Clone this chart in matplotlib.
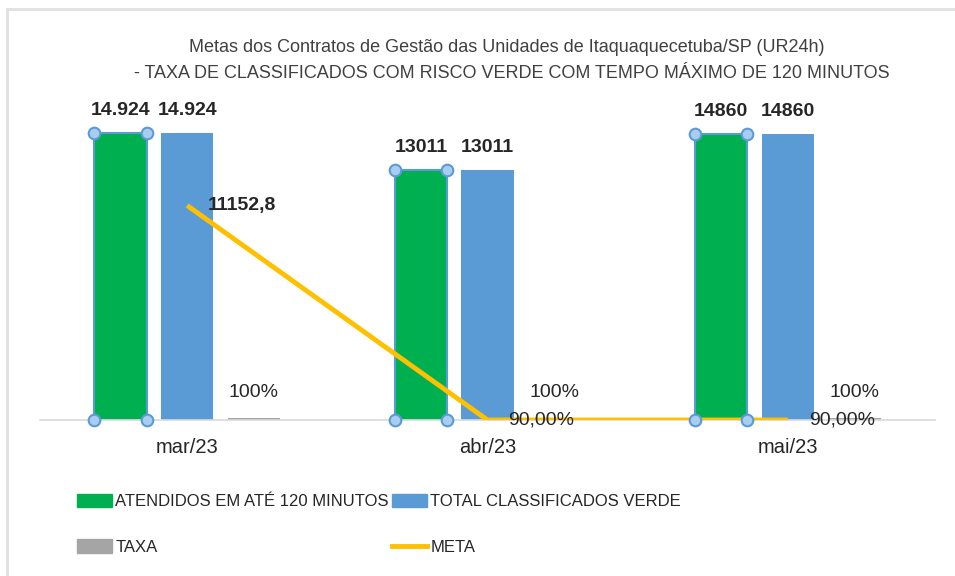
import matplotlib.pyplot as plt
from matplotlib.lines import Line2D
from matplotlib.patches import Patch
import numpy as np

# dados
meses = ['mar/23', 'abr/23', 'mai/23']
atendidos = [14924, 13011, 14860]
total_verde = [14924, 13011, 14860]
taxa = [100, 100, 100]
meta = [11152.8, 0.9, 0.9]

rot_atendidos = ['14.924', '13011', '14860']
rot_total = ['14.924', '13011', '14860']
rot_taxa = ['100%', '100%', '100%']
rot_meta = ['11152,8', '90,00%', '90,00%']

verde = '#00B050'
azul = '#5B9BD5'
cinza = '#A5A5A5'
amarelo = '#FFC000'
texto = '#262626'

plt.rcParams['font.family'] = ['Liberation Sans', 'DejaVu Sans']

fig = plt.figure(figsize=(9.55, 5.76), dpi=100)
ax = fig.add_axes([40 / 955, 156 / 576, 895 / 955, 320 / 576])

x = np.arange(len(meses))
w = 0.175
off = 0.222

ax.bar(x - off, atendidos, w, color=verde, edgecolor=azul, linewidth=1.5, zorder=2)
ax.bar(x, total_verde, w, color=azul, zorder=2)
ax.bar(x + off, taxa, w, color=cinza, zorder=2)
ax.plot(x, meta, color=amarelo, linewidth=3.5, solid_capstyle='butt', zorder=3)

# alças de seleção nas barras verdes
for xi, h in zip(x, atendidos):
    cx = [xi - off - w / 2, xi - off + w / 2] * 2
    cy = [0, 0, h, h]
    ax.scatter(cx, cy, s=70, facecolor='#A9CDF0', edgecolor=azul,
               linewidth=1.5, zorder=4, clip_on=False)

for xi, h, t in zip(x, atendidos, rot_atendidos):
    ax.annotate(t, (xi - off, h), xytext=(0, 10), textcoords='offset points',
                ha='center', va='bottom', fontsize=14, fontweight='bold', color=texto)
for xi, h, t in zip(x, total_verde, rot_total):
    ax.annotate(t, (xi, h), xytext=(0, 10), textcoords='offset points',
                ha='center', va='bottom', fontsize=14, fontweight='bold', color=texto)
for xi, h, t in zip(x, taxa, rot_taxa):
    ax.annotate(t, (xi + off, h), xytext=(0, 12), textcoords='offset points',
                ha='center', va='bottom', fontsize=14, color=texto)
for xi, h, t in zip(x, meta, rot_meta):
    ax.annotate(t, (xi, h), xytext=(15, 0), textcoords='offset points',
                ha='left', va='center', fontsize=14,
                fontweight='bold' if h > 1 else 'normal', color=texto)

ax.set_xlim(-0.49, 2.49)
ax.set_ylim(0, 16640)
ax.set_yticks([])
ax.set_xticks(x)
ax.set_xticklabels(meses, fontsize=14.5, color=texto)
ax.tick_params(axis='x', length=0, pad=13)
for s in ['left', 'right', 'top']:
    ax.spines[s].set_visible(False)
ax.spines['bottom'].set_color('#D9D9D9')
ax.spines['bottom'].set_linewidth(1.2)

fig.text(507 / 955, 1 - 47 / 576,
         'Metas dos Contratos de Gestão das Unidades de Itaquaquecetuba/SP (UR24h)',
         ha='center', va='center', fontsize=13, color='#404040')
fig.text(512 / 955, 1 - 74 / 576,
         '- TAXA DE CLASSIFICADOS COM RISCO VERDE COM TEMPO MÁXIMO DE 120 MINUTOS',
         ha='center', va='center', fontsize=13, color='#404040')

handles = [Patch(color=verde), Patch(color=cinza), Patch(color=azul),
           Line2D([], [], color=amarelo, linewidth=3.5)]
labels = ['ATENDIDOS EM ATÉ 120 MINUTOS', 'TAXA', 'TOTAL CLASSIFICADOS VERDE', 'META']
fig.legend(handles, labels, ncol=2, loc='upper left',
           bbox_to_anchor=(77 / 955, 1 - 494 / 576), frameon=False,
           fontsize=12, handlelength=2.1, handleheight=0.85, handletextpad=0.2,
           columnspacing=0.2, labelspacing=1.8, borderaxespad=0, borderpad=0,
           labelcolor=texto)

# moldura do gráfico
fig.add_artist(Line2D([7 / 955, 7 / 955], [0, 1 - 9 / 576], color='#E0E0E0', linewidth=2))
fig.add_artist(Line2D([7 / 955, 1], [1 - 9 / 576, 1 - 9 / 576], color='#E0E0E0', linewidth=2))

fig.savefig('out.png', dpi=100)
